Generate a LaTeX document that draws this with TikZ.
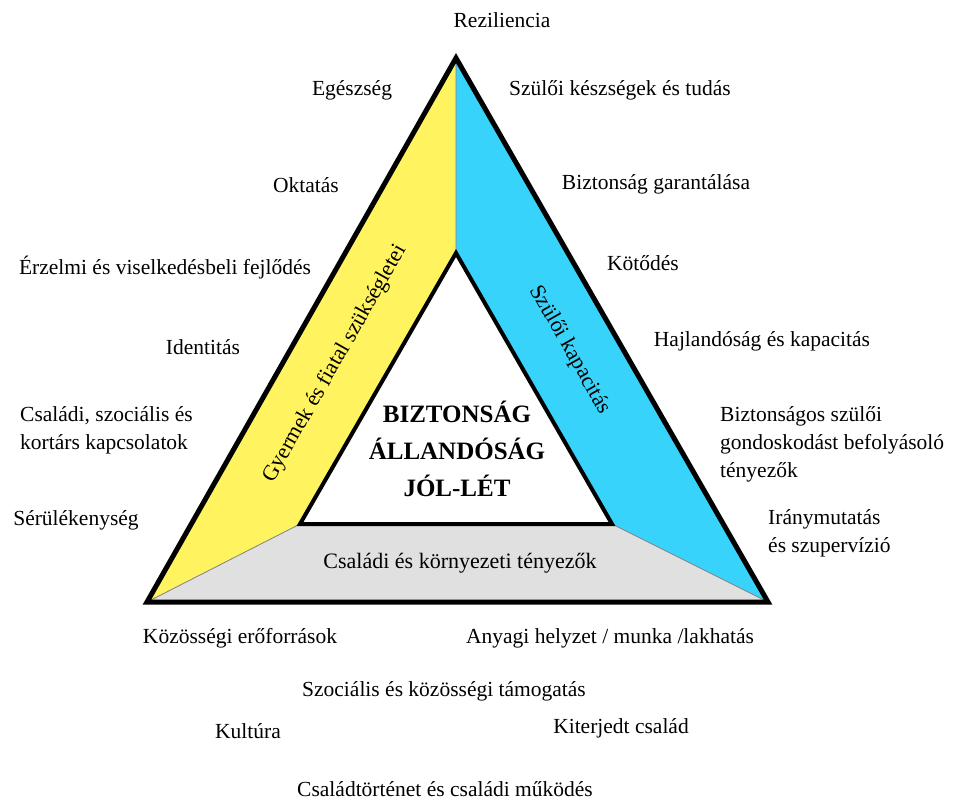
\documentclass[tikz,border=0pt]{standalone}
\usepackage{fontspec}
\setmainfont{Liberation Serif}
\usepackage{xcolor}
\usetikzlibrary{calc,positioning}
\definecolor{needyellow}{HTML}{FFF35F}
\definecolor{capblue}{HTML}{38D3FA}
\definecolor{envgray}{HTML}{E0E0E0}
\begin{document}
\begin{tikzpicture}[x=1pt,y=-1pt,line join=miter,
  lbl/.style={font=\fontsize{21.5}{28}\selectfont,align=left,inner sep=0pt},
  band/.style={font=\fontsize{22}{22}\selectfont,inner sep=0pt},
  core/.style={font=\fontsize{25}{37}\selectfont\bfseries,align=center}]
  \useasboundingbox (0,0) rectangle (955,801);
  % Corners of the outer and inner triangle.
  \coordinate (apex) at (456,58);
  \coordinate (bl) at (147,602);
  \coordinate (br) at (768,602);
  \coordinate (iapex) at (456,253);
  \coordinate (ibl) at (300,524);
  \coordinate (ibr) at (612,524);
  % Three coloured bands.
  \fill[needyellow] (apex)--(iapex)--(ibl)--(bl)--cycle;
  \fill[capblue] (apex)--(br)--(ibr)--(iapex)--cycle;
  \fill[envgray] (bl)--(ibl)--(ibr)--(br)--cycle;
  \draw[gray,line width=.8pt] (apex)--(iapex) (ibl)--(bl) (ibr)--(br);
  \fill[white] (iapex)--(ibr)--(ibl)--cycle;
  \draw[line width=4pt] (iapex)--(ibr)--(ibl)--cycle;
  \draw[line width=5pt] (apex)--(br)--(bl)--cycle;
  \node[core] (core) at (457,449) {BIZTONSÁG\\ÁLLANDÓSÁG\\JÓL-LÉT};
  \node[band,rotate=60.4] (needs) at (335,364) {Gyermek és fiatal szükségletei};
  \node[band,rotate=-60.4] (parcap) at (570,350) {Szülői kapacitás};
  \node[band] (env) at (460,563) {Családi és környezeti tényezők};
  % Labels around the triangle.
  \foreach \n/\x/\y/\txt in {rez/502/20/Reziliencia,
    egesz/352/90/Egészség,
    szkesz/620/90/Szülői készségek és tudás,
    okt/306/185/Oktatás,
    bizt/656/184/Biztonság garantálása,
    erz/165/268/Érzelmi és viselkedésbeli fejlődés,
    kot/643/263/Kötődés,
    ident/203/347/Identitás,
    hajl/762/341/Hajlandóság és kapacitás,
    serul/76/520/Sérülékenység,
    kozer/240/638/Közösségi erőforrások,
    anyagi/610/638/{Anyagi helyzet / munka /lakhatás},
    tamog/444/691/Szociális és közösségi támogatás,
    kult/248/731/Kultúra,
    kiterj/621/728/Kiterjedt család,
    tort/445/789/Családtörténet és családi működés}
    \node[lbl] (\n) at (\x,\y) {\txt};
  \node[lbl,anchor=west] (kapcs) at (20,430) {Családi, szociális és\\kortárs kapcsolatok};
  \node[lbl,anchor=west] (gondos) at (720,444) {Biztonságos szülői\\gondoskodást befolyásoló\\tényezők};
  \node[lbl,anchor=west] (irany) at (768,533) {Iránymutatás\\és szupervízió};
\end{tikzpicture}
\end{document}
